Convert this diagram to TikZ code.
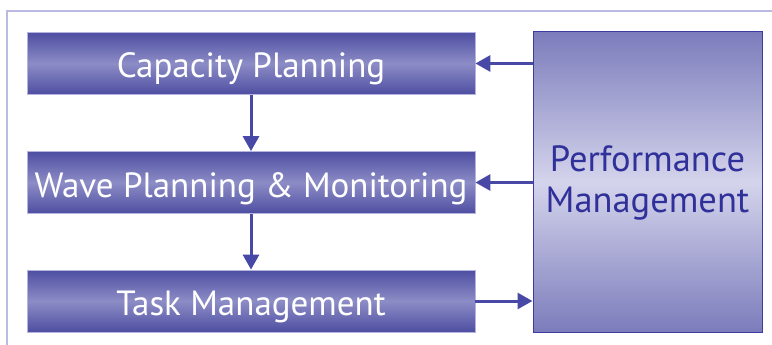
\documentclass[tikz,border=0pt]{standalone}
\usepackage{fontspec}
\setmainfont{PT Sans}
\definecolor{boxdark}{HTML}{4E4EA2}
\definecolor{boxlight}{HTML}{8C8CC6}
\definecolor{boxedge}{HTML}{B4B4DE}
\definecolor{perfedge}{HTML}{3C3CA0}
\definecolor{perfdark}{HTML}{7C7CBC}
\definecolor{perflight}{HTML}{D4D4EC}
\definecolor{perftext}{HTML}{30309A}
\definecolor{arrowblue}{HTML}{4848A6}
\definecolor{frameblue}{HTML}{BABAE2}
\usetikzlibrary{arrows.meta}

\begin{document}
\begin{tikzpicture}[x=1pt, y=-1pt,
    stage/.style={draw=boxedge, line width=0.8pt, minimum width=448pt, minimum height=62pt,
      top color=boxdark, bottom color=boxdark, middle color=boxlight,
      text=white, font=\fontsize{35}{40}\selectfont, inner sep=0pt,
      text height=31pt, text depth=2pt},
    perf/.style={draw=perfedge, line width=1pt, minimum width=229pt, minimum height=300pt,
      top color=perfdark, bottom color=perfdark, middle color=perflight,
      text=perftext, align=center, font=\fontsize{36.5}{41}\selectfont, inner sep=0pt},
    arr/.style={arrowblue, line width=3pt, -{Triangle[length=15pt,width=16pt]}}]
        \useasboundingbox (0,0) rectangle (772,345);
        % Frame
        \draw[frameblue, line width=2pt] (7,345) -- (7,11) -- (772,11);
        % Stages
        \node[stage] (cap) at (251,63.5) {Capacity Planning};
        \node[stage] (wave) at (251,182.5) {Wave Planning \& Monitoring};
        \node[stage] (task) at (251,301) {Task Management};
        % Performance box
        \node[perf] (pm) at (647.5,182) {\\[-13pt]Performance\\Management};
        % Flow down
        \draw[arr] (cap.south) -- (wave.north);
        \draw[arr] (wave.south) -- (task.north);
        % Feedback
        \draw[arr] (pm.west |- cap.east) -- (cap.east);
        \draw[arr] (pm.west |- wave.east) -- (wave.east);
        \draw[arr] (task.east) -- (pm.west |- task.east);
\end{tikzpicture}
\end{document}
